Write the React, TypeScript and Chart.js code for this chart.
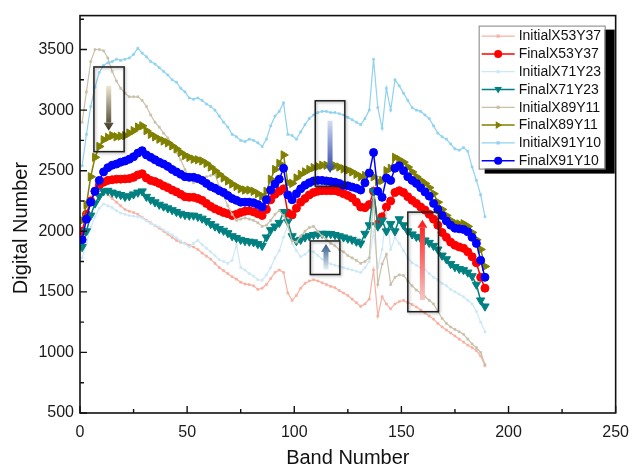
import React, { useEffect, useRef } from 'react';
import { Chart, registerables } from 'chart.js';

Chart.register(...registerables);

// ---------- data ----------
const BANDS = [
  1, 3, 5, 7, 9, 11, 13, 15, 17, 19,
  21, 23, 25, 27, 29, 31, 33, 35, 37, 39,
  41, 43, 45, 47, 49, 51, 53, 55, 57, 59,
  61, 63, 65, 67, 69, 71, 73, 75, 77, 79,
  81, 83, 85, 87, 89, 91, 93, 95, 97, 99,
  101, 103, 105, 107, 109, 111, 113, 115, 117, 119,
  121, 123, 125, 127, 129, 131, 133, 135, 137, 139,
  141, 143, 145, 147, 149, 151, 153, 155, 157, 159,
  161, 163, 165, 167, 169, 171, 173, 175, 177, 179,
  181, 183, 185, 187, 189,
];

const INITIAL_X53Y37 = [
  1950, 2120, 2280, 2360, 2350, 2340, 2300, 2270, 2240, 2210,
  2180, 2165, 2155, 2140, 2115, 2090, 2070, 2045, 2025, 2000,
  1975, 1950, 1925, 1910, 1900, 1885, 1870, 1850, 1820, 1795,
  1770, 1735, 1700, 1675, 1650, 1625, 1605, 1580, 1565, 1560,
  1550, 1520, 1530, 1560, 1610, 1660, 1680, 1660, 1490, 1430,
  1470, 1530, 1570, 1590, 1600, 1590, 1575, 1560, 1545, 1535,
  1510, 1490, 1470, 1440, 1410, 1380, 1400, 1440, 1680, 1300,
  1460, 1400, 1360, 1400, 1420, 1430, 1410, 1395, 1375, 1350,
  1325, 1300, 1275, 1240, 1210, 1185, 1160, 1135, 1110, 1085,
  1060, 1040, 1015, 970, 890,
];

const FINAL_X53Y37 = [
  2000, 2140, 2250, 2330, 2380, 2405, 2420, 2425, 2430, 2430,
  2432, 2435, 2445, 2465, 2475, 2440, 2420, 2410, 2395, 2375,
  2360, 2340, 2325, 2305, 2285, 2280, 2280, 2270, 2255, 2230,
  2205, 2185, 2170, 2155, 2145, 2130, 2140, 2155, 2165, 2170,
  2160, 2145, 2130, 2180, 2260, 2305, 2330, 2350, 2150, 2135,
  2190, 2240, 2270, 2300, 2320, 2330, 2335, 2335, 2335, 2335,
  2325, 2310, 2295, 2275, 2240, 2200, 2195, 2220, 2330, 2060,
  2120, 2200, 2250, 2320, 2335, 2320, 2285, 2255, 2230, 2200,
  2175, 2140, 2100, 2050, 1990, 1950, 1910, 1885, 1870, 1860,
  1830, 1790, 1740, 1620, 1530,
];

const INITIAL_X71Y23 = [
  1780, 1900, 2030, 2120, 2190, 2225, 2210, 2195, 2170, 2150,
  2140, 2130, 2125, 2120, 2110, 2085, 2065, 2050, 2035, 2010,
  1990, 1970, 1945, 1920, 1895, 1870, 1900, 1925, 1890, 1860,
  1830, 1800, 1765, 1750, 1735, 1760, 1890, 1700, 1680, 1650,
  1630, 1600, 1595, 1640, 1700, 1780, 1840, 1950, 2050, 1900,
  1840, 1790, 1810, 1840, 1830, 1800, 1770, 1750, 1730, 1720,
  1710, 1700, 1690, 1680, 1670, 1660, 1700, 1750, 2000, 1700,
  1850, 2150, 1850, 1950, 1900, 1840, 1780, 1740, 1720, 1700,
  1685, 1650, 1620, 1600, 1570, 1550, 1520, 1500, 1480, 1460,
  1430, 1400, 1340, 1250, 1170,
];

const FINAL_X71Y23 = [
  1870, 2000, 2130, 2230, 2290, 2330, 2335, 2320, 2310, 2300,
  2285, 2290, 2305, 2320, 2330, 2285, 2260, 2240, 2220, 2205,
  2190, 2175, 2160, 2145, 2135, 2130, 2130, 2120, 2105, 2085,
  2060, 2040, 2020, 2005, 1985, 1960, 1945, 1930, 1920, 1915,
  1910, 1895, 1880, 1950, 2010, 2040, 2070, 2160, 2080, 1960,
  1920, 1930, 1950, 1960, 1970, 1975, 1980, 1980, 1978, 1970,
  1960, 1950, 1940, 1930, 1915, 1900, 1980, 2050, 2330, 2040,
  2090, 2000, 2060, 2000, 2100, 2050, 2000, 1975, 1955, 1940,
  1925, 1905, 1880, 1850, 1800, 1770, 1730, 1705, 1690, 1680,
  1660, 1630, 1560, 1430, 1380,
];

const INITIAL_X89Y11 = [
  2900, 3150, 3400, 3500, 3500, 3490, 3430, 3320, 3240, 3180,
  3140, 3110, 3110, 3110, 3080, 3030, 2960, 2900, 2860, 2810,
  2770, 2720, 2650, 2590, 2510, 2450, 2400, 2410, 2440, 2450,
  2460, 2470, 2370, 2290, 2210, 2140, 2090, 2100, 2110, 2100,
  2090, 2070, 2040, 2050, 2090, 2140, 2170, 2130, 2050, 1920,
  1910, 1960, 2000, 2030, 2040, 2000, 1960, 1930, 1900, 1880,
  1850, 1830, 1800, 1780, 1760, 1735, 1750, 1780, 2280, 1560,
  1730, 1810, 1560, 1620, 1640, 1635, 1590, 1550, 1515, 1490,
  1460, 1430, 1400, 1340, 1280, 1240, 1210, 1190, 1170, 1150,
  1110, 1070, 1040, 1000, 900,
];

const FINAL_X89Y11 = [
  2090, 2220, 2450, 2610, 2700, 2755, 2775, 2790, 2780, 2785,
  2790, 2810, 2830, 2860, 2870, 2830, 2800, 2780, 2760, 2745,
  2730, 2705, 2680, 2650, 2625, 2610, 2595, 2590, 2580, 2560,
  2530, 2500, 2470, 2440, 2415, 2390, 2370, 2350, 2340, 2340,
  2330, 2310, 2290, 2330, 2430, 2510, 2560, 2630, 2400, 2395,
  2440, 2470, 2490, 2510, 2525, 2535, 2545, 2545, 2540, 2540,
  2530, 2515, 2505, 2490, 2470, 2450, 2460, 2480, 2450, 2410,
  2420, 2500, 2520, 2610, 2590, 2570, 2530, 2490, 2450, 2420,
  2395, 2360, 2310, 2240, 2180, 2130, 2090, 2065, 2060, 2062,
  2040, 1990, 1930, 1850, 1710,
];

const INITIAL_X91Y10 = [
  2540, 2800, 3030, 3190, 3310, 3370, 3390, 3400, 3420, 3410,
  3420, 3430, 3460, 3510, 3470, 3440, 3400, 3380, 3350, 3320,
  3290, 3250, 3230, 3180, 3150, 3100, 3090, 3100, 3080, 3050,
  3030, 3000, 2950, 2900, 2860, 2800, 2780, 2750, 2740, 2760,
  2750, 2730, 2700, 2760, 2870, 2950, 2990, 3060, 2800, 2790,
  2760, 2820, 2880, 2930, 2960, 2980, 2990, 2990, 2980, 2980,
  2970, 2960, 2940, 2920, 2900, 2880, 2930, 3000, 3420, 3020,
  2850, 3180, 3000, 3250, 3200, 3140, 3080, 3020, 3000, 2990,
  2960, 2930, 2870, 2810, 2780, 2760, 2720, 2680, 2670, 2690,
  2660, 2530, 2420, 2300, 2120,
];

const FINAL_X91Y10 = [
  1930, 2100, 2240, 2330, 2420, 2490, 2525, 2545, 2555, 2570,
  2580, 2595, 2615, 2645, 2665, 2630, 2610, 2590, 2570, 2555,
  2535, 2510, 2490, 2470, 2450, 2445, 2445, 2435, 2420, 2395,
  2370, 2355, 2335, 2320, 2295, 2270, 2255, 2240, 2240, 2240,
  2235, 2220, 2200, 2260, 2340, 2390, 2430, 2520, 2300, 2260,
  2310, 2350, 2380, 2400, 2415, 2420, 2420, 2415, 2410, 2405,
  2395, 2380, 2375, 2365, 2355, 2340, 2400, 2480, 2650, 2330,
  2280, 2440, 2420, 2520, 2540, 2500, 2450, 2420, 2395, 2360,
  2325, 2290, 2230, 2180, 2130, 2085, 2050, 2025, 2020, 2015,
  1995, 1950, 1900, 1760, 1620,
];

const SERIES_NAMES = [
  'InitialX53Y37', 'FinalX53Y37', 'InitialX71Y23', 'FinalX71Y23',
  'InitialX89Y11', 'FinalX89Y11', 'InitialX91Y10', 'FinalX91Y10',
];
const SERIES_VALUES = [
  INITIAL_X53Y37, FINAL_X53Y37, INITIAL_X71Y23, FINAL_X71Y23,
  INITIAL_X89Y11, FINAL_X89Y11, INITIAL_X91Y10, FINAL_X91Y10,
];

const X_TICKS = [0, 50, 100, 150, 200, 250];
const X_MINOR = [25, 75, 125, 175, 225];
const Y_TICKS = [500, 1000, 1500, 2000, 2500, 3000, 3500];
const Y_MINOR = [750, 1250, 1750, 2250, 2750, 3250, 3750];

// annotation boxes (band range, value range) and arrows (band, tail value, head value)
const BOX_BANDS = [[6.5, 20.6], [109.8, 123.6], [107.5, 121.3], [153, 167.3]];
const BOX_VALUES = [[3356, 2657], [3077, 2372], [1920, 1643], [2158, 1336]];
const ARROW_BANDS = [13.4, 116.7, 114.8, 159.8];
const ARROW_VALUES = [[3200, 2830], [2912, 2480], [1684, 1895], [1432, 2095]];

// ---------- styles ----------
const STYLES = [
  { color: '#f7b1a2', style: 'rect', rot: 0, r: 1.5, w: 1.2, big: false },
  { color: '#ff0000', style: 'circle', rot: 0, r: 4, w: 1.5, big: true },
  { color: '#cde8f6', style: 'rect', rot: 0, r: 1.5, w: 1.2, big: false },
  { color: '#008080', style: 'triangle', rot: 180, r: 4.8, w: 1.5, big: true },
  { color: '#c9c0a9', style: 'rect', rot: 0, r: 1.5, w: 1.2, big: false },
  { color: '#808000', style: 'triangle', rot: 90, r: 4.8, w: 1.5, big: true },
  { color: '#8fd2ef', style: 'rect', rot: 0, r: 1.5, w: 1.2, big: false },
  { color: '#0000ff', style: 'circle', rot: 0, r: 4, w: 1.5, big: true },
];
const ARROW_COLORS = [
  ['#eee8cf', '#3a3522'],
  ['#d3def5', '#2940a6'],
  ['#e6eef5', '#2e5884'],
  ['#f7c6c6', '#ff1818'],
];

const FONT = '"Liberation Sans", Arial, Helvetica, sans-serif';

function drawMarker(ctx: CanvasRenderingContext2D, style: string, rot: number, r: number, x: number, y: number) {
  ctx.save();
  ctx.translate(x, y);
  ctx.rotate((rot * Math.PI) / 180);
  ctx.beginPath();
  if (style === 'circle') {
    ctx.arc(0, 0, r, 0, Math.PI * 2);
  } else if (style === 'triangle') {
    ctx.moveTo(0, -r);
    ctx.lineTo(r * 0.95, r * 0.6);
    ctx.lineTo(-r * 0.95, r * 0.6);
    ctx.closePath();
  } else {
    ctx.rect(-r, -r, 2 * r, 2 * r);
  }
  ctx.fill();
  ctx.restore();
}

const decorPlugin = {
  id: 'decor',
  afterDatasetsDraw(chart: any) {
    const { ctx, chartArea: a, scales } = chart;
    const xs = scales.x;
    const ys = scales.y;
    ctx.save();
    // annotation boxes
    BOX_BANDS.forEach((bb, i) => {
      const x0 = xs.getPixelForValue(bb[0]);
      const x1 = xs.getPixelForValue(bb[1]);
      const y0 = ys.getPixelForValue(BOX_VALUES[i][0]);
      const y1 = ys.getPixelForValue(BOX_VALUES[i][1]);
      ctx.save();
      ctx.shadowColor = 'rgba(0,0,0,0.35)';
      ctx.shadowBlur = 3;
      ctx.shadowOffsetX = 1;
      ctx.shadowOffsetY = 1;
      ctx.strokeStyle = '#1e1e1e';
      ctx.lineWidth = 1.5;
      ctx.strokeRect(x0, y0, x1 - x0, y1 - y0);
      ctx.restore();
    });
    // arrows
    ARROW_BANDS.forEach((b, i) => {
      const px = xs.getPixelForValue(b);
      const tail = ys.getPixelForValue(ARROW_VALUES[i][0]);
      const head = ys.getPixelForValue(ARROW_VALUES[i][1]);
      const dir = Math.sign(head - tail);
      const headLen = 8;
      const grad = ctx.createLinearGradient(0, tail, 0, head);
      grad.addColorStop(0, ARROW_COLORS[i][0]);
      grad.addColorStop(1, ARROW_COLORS[i][1]);
      ctx.fillStyle = grad;
      const sEnd = head - dir * headLen;
      ctx.fillRect(px - 2.5, Math.min(tail, sEnd), 5, Math.abs(sEnd - tail));
      ctx.beginPath();
      ctx.moveTo(px - 5, sEnd);
      ctx.lineTo(px + 5, sEnd);
      ctx.lineTo(px, head);
      ctx.closePath();
      ctx.fill();
    });
    // frame
    ctx.strokeStyle = '#111';
    ctx.lineWidth = 1.6;
    ctx.strokeRect(a.left, a.top, a.right - a.left, a.bottom - a.top);
    // inward ticks
    ctx.lineWidth = 1.4;
    ctx.beginPath();
    X_TICKS.forEach((v) => {
      const p = xs.getPixelForValue(v);
      ctx.moveTo(p, a.bottom);
      ctx.lineTo(p, a.bottom - 7);
    });
    X_MINOR.forEach((v) => {
      const p = xs.getPixelForValue(v);
      ctx.moveTo(p, a.bottom);
      ctx.lineTo(p, a.bottom - 4);
    });
    Y_TICKS.forEach((v) => {
      const p = ys.getPixelForValue(v);
      ctx.moveTo(a.left, p);
      ctx.lineTo(a.left + 7, p);
    });
    Y_MINOR.forEach((v) => {
      const p = ys.getPixelForValue(v);
      if (p < a.top) return;
      ctx.moveTo(a.left, p);
      ctx.lineTo(a.left + 4, p);
    });
    ctx.stroke();
    ctx.restore();
  },
  afterDraw(chart: any) {
    const { ctx, chartArea: a } = chart;
    ctx.save();
    // y axis title
    ctx.translate(21, 228);
    ctx.rotate(-Math.PI / 2);
    ctx.fillStyle = '#111';
    ctx.font = `20px ${FONT}`;
    ctx.textAlign = 'center';
    ctx.textBaseline = 'middle';
    ctx.fillText('Digital Number', 0, 0);
    ctx.restore();

    // legend
    ctx.save();
    const lw = 126;
    const lh = 143;
    const lx = a.right - 137;
    const ly = a.top + 10;
    ctx.fillStyle = '#000';
    ctx.fillRect(lx + 6, ly + 4, lw + 4, lh + 1);
    ctx.fillStyle = '#fff';
    ctx.fillRect(lx, ly, lw, lh);
    ctx.strokeStyle = '#808080';
    ctx.lineWidth = 1;
    ctx.strokeRect(lx + 0.5, ly + 0.5, lw, lh);
    ctx.font = `14px ${FONT}`;
    ctx.textBaseline = 'middle';
    ctx.textAlign = 'left';
    SERIES_NAMES.forEach((name, i) => {
      const st = STYLES[i];
      const yy = ly + 10.5 + i * 17.8;
      ctx.strokeStyle = st.color;
      ctx.lineWidth = st.big ? 1.5 : 1.2;
      ctx.beginPath();
      ctx.moveTo(lx + 3, yy);
      ctx.lineTo(lx + 36, yy);
      ctx.stroke();
      ctx.fillStyle = st.color;
      drawMarker(ctx, st.style, st.rot, st.big ? 4 : 1.6, lx + 19.5, yy);
      ctx.fillStyle = '#111';
      ctx.fillText(name, lx + 40, yy + 0.5);
    });
    ctx.restore();
  },
};

export default function App() {
  const ref = useRef<HTMLCanvasElement | null>(null);

  useEffect(() => {
    document.body.style.margin = '0';
    const canvas = ref.current;
    if (!canvas) return;
    const datasets = SERIES_NAMES.map((name, i) => {
      const st = STYLES[i];
      return {
        label: name,
        data: BANDS.map((b, j) => ({ x: b, y: SERIES_VALUES[i][j] })),
        borderColor: st.color,
        backgroundColor: st.color,
        borderWidth: st.w,
        pointStyle: st.style,
        pointRotation: st.rot,
        pointRadius: st.r,
        pointBorderWidth: st.big ? 1 : 0.5,
        pointBorderColor: st.color,
        pointBackgroundColor: st.color,
        tension: 0,
        order: SERIES_NAMES.length - i,
      };
    });

    const chart = new Chart(canvas, {
      type: 'line',
      data: { datasets },
      options: {
        animation: false,
        responsive: false,
        maintainAspectRatio: false,
        layout: { padding: { top: 14, right: 15, left: 0, bottom: 0 } },
        plugins: {
          legend: { display: false },
          tooltip: { enabled: false },
        },
        scales: {
          x: {
            type: 'linear',
            min: 0,
            max: 250,
            grid: { display: false, drawTicks: false },
            border: { display: false },
            afterBuildTicks: (s: any) => {
              s.ticks = X_TICKS.map((v) => ({ value: v }));
            },
            afterFit: (s: any) => {
              s.height = 59;
            },
            ticks: {
              padding: 10,
              color: '#1a1a1a',
              font: { size: 16, family: FONT },
              maxRotation: 0,
              callback: (v: any) => String(v),
            },
            title: {
              display: true,
              text: 'Band Number',
              color: '#111',
              font: { size: 20, family: FONT },
              padding: { top: 0, bottom: 2 },
            },
          },
          y: {
            type: 'linear',
            min: 500,
            max: 3780,
            grid: { display: false, drawTicks: false },
            border: { display: false },
            afterBuildTicks: (s: any) => {
              s.ticks = Y_TICKS.map((v) => ({ value: v }));
            },
            afterFit: (s: any) => {
              s.width = 80;
            },
            ticks: {
              padding: 6,
              color: '#1a1a1a',
              font: { size: 16, family: FONT },
              callback: (v: any) => String(v),
            },
          },
        },
      },
      plugins: [decorPlugin],
    } as any);

    return () => chart.destroy();
  }, []);

  return (
    <div style={{ width: 639, height: 472 }}>
      <canvas ref={ref} width={639} height={472} style={{ display: 'block' }} />
    </div>
  );
}
